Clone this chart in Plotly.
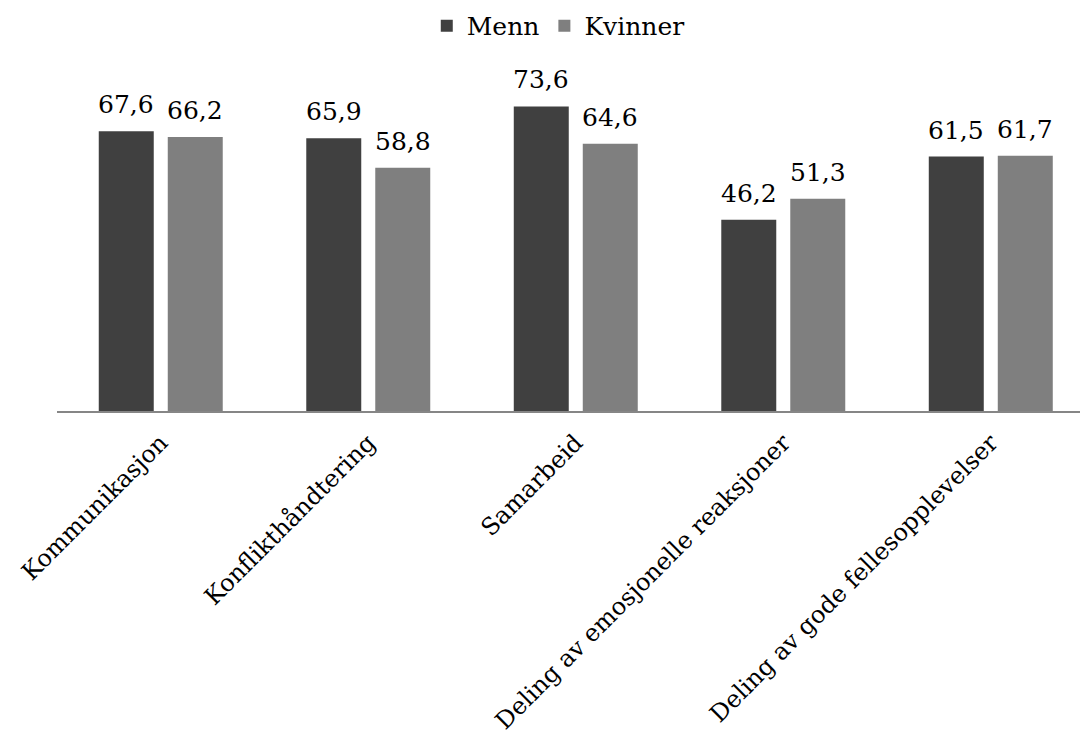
import plotly.graph_objects as go

categories = [
    "Kommunikasjon",
    "Konflikthåndtering",
    "Samarbeid",
    "Deling av emosjonelle reaksjoner",
    "Deling av gode fellesopplevelser",
]
menn = [67.6, 65.9, 73.6, 46.2, 61.5]
kvinner = [66.2, 58.8, 64.6, 51.3, 61.7]

FONT = "DejaVu Serif"
LABEL_SIZE = 25
TICK_SIZE = 24

fig = go.Figure()
fig.add_trace(go.Bar(
    name="Menn", x=categories, y=menn,
    marker=dict(color="#404040", line=dict(width=0)),
))
fig.add_trace(go.Bar(
    name="Kvinner", x=categories, y=kvinner,
    marker=dict(color="#7f7f7f", line=dict(width=0)),
))

# value labels above each bar, shifted to the bar's slot in its group
for values, shift in ((menn, -34.5), (kvinner, 34.5)):
    for cat, v in zip(categories, values):
        fig.add_annotation(
            x=cat, y=v, xref="x", yref="y",
            text=f"{v:.1f}".replace(".", ","),
            showarrow=False, xshift=shift, yshift=10,
            yanchor="bottom", xanchor="center",
            font=dict(family=FONT, size=LABEL_SIZE, color="#000000"),
        )

fig.update_layout(
    width=1082, height=740,
    margin=dict(l=57, r=2, t=80, b=329, autoexpand=False),
    paper_bgcolor="white", plot_bgcolor="white",
    barmode="group", bargap=0.335, bargroupgap=0.203,
    font=dict(family=FONT, size=LABEL_SIZE, color="#000000"),
    showlegend=True,
    legend=dict(
        orientation="h", x=0.49, xanchor="center",
        yref="container", y=0.965, yanchor="middle",
        font=dict(family=FONT, size=LABEL_SIZE, color="#000000"),
        itemwidth=30, traceorder="normal",
    ),
    xaxis=dict(
        range=[-0.5, 4.43], tickangle=-45, showgrid=False,
        showline=True, linecolor="#868686", linewidth=2,
        ticks="", ticklabelstandoff=6, automargin=False,
        tickfont=dict(family=FONT, size=TICK_SIZE, color="#000000"),
    ),
    yaxis=dict(
        range=[0, 80], visible=False, showgrid=False, zeroline=False,
        automargin=False,
    ),
)

fig.write_html("out.html")
